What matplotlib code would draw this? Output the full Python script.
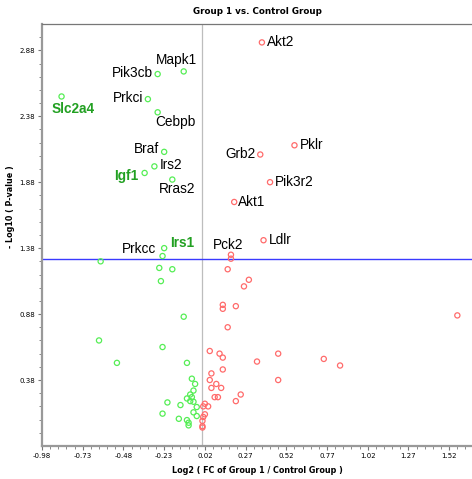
import numpy as np
import matplotlib
matplotlib.use("Agg")
import matplotlib.pyplot as plt
from matplotlib.ticker import FixedLocator

# down-regulated genes (green)
down_x = [-0.86, -0.27, -0.11, -0.33, -0.27, -0.23, -0.29, -0.35, -0.18,
          -0.23, -0.24, -0.26, -0.18, -0.25, -0.11, -0.62, -0.63, -0.52,
          -0.24, -0.09, -0.06, -0.04, -0.05, -0.07, -0.06, -0.09, -0.07,
          -0.05, -0.21, -0.13, -0.03, -0.05, -0.24, -0.03, -0.14, -0.09,
          -0.08, -0.08]
down_y = [2.53, 2.70, 2.72, 2.51, 2.41, 2.11, 2.00, 1.95, 1.90,
          1.38, 1.32, 1.23, 1.22, 1.13, 0.86, 1.28, 0.68, 0.51,
          0.63, 0.51, 0.39, 0.35, 0.30, 0.27, 0.25, 0.24, 0.22,
          0.215, 0.21, 0.19, 0.175, 0.135, 0.125, 0.107, 0.086, 0.076,
          0.056, 0.036]

# up-regulated genes (red)
up_x = [0.37, 0.57, 0.36, 0.42, 0.20, 0.38, 0.18, 0.18, 0.16, 0.29,
        0.26, 0.13, 0.13, 0.21, 1.57, 0.16, 0.05, 0.11, 0.13, 0.47,
        0.34, 0.75, 0.85, 0.13, 0.06, 0.05, 0.47, 0.09, 0.12, 0.06,
        0.24, 0.10, 0.08, 0.21, 0.02, 0.04, 0.01, 0.02, 0.01, 0.005,
        0.005, 0.005]
up_y = [2.94, 2.16, 2.09, 1.88, 1.73, 1.44, 1.33, 1.30, 1.22, 1.14,
        1.09, 0.95, 0.92, 0.94, 0.87, 0.78, 0.60, 0.58, 0.55, 0.58,
        0.52, 0.54, 0.49, 0.46, 0.43, 0.38, 0.38, 0.35, 0.32, 0.32,
        0.27, 0.25, 0.25, 0.22, 0.20, 0.18, 0.18, 0.12, 0.10, 0.07,
        0.03, 0.02]

# labels: (name, index, side, offset px, highlighted)
down_labels = [("Slc2a4", 0, "left", (-10, -13), True),
               ("Pik3cb", 1, "right", (-5, 1), False),
               ("Mapk1", 2, "center", (-7, 11), False),
               ("Prkci", 3, "right", (-5, 1), False),
               ("Cebpb", 4, "left", (-2, -10), False),
               ("Braf", 5, "right", (-5, 3), False),
               ("Irs2", 6, "left", (5, 1), False),
               ("Igf1", 7, "right", (-6, -3), True),
               ("Rras2", 8, "left", (-13, -9), False),
               ("Irs1", 9, "left", (6, 5), True),
               ("Prkcc", 10, "right", (-6, 7), False)]
up_labels = [("Akt2", 0, "left", (5, 0)),
             ("Pklr", 1, "left", (5, 0)),
             ("Grb2", 2, "right", (-5, 1)),
             ("Pik3r2", 3, "left", (5, 0)),
             ("Akt1", 4, "left", (4, 0)),
             ("Ldlr", 5, "left", (5, 0)),
             ("Pck2", 6, "center", (-3, 10))]

p_cut = -np.log10(0.05)

fig = plt.figure(figsize=(4.72, 4.79), dpi=100)
ax = fig.add_axes([0.089, 0.069, 0.911, 0.881])

ax.axvline(0, color='#bdbdbd', lw=0.9, zorder=1)
ax.axhline(p_cut, color='#3a3aff', lw=1.0, zorder=1)

ax.scatter(down_x, down_y, s=14, facecolors='none', edgecolors='#55ee55',
           linewidths=0.9, zorder=3)
ax.scatter(up_x, up_y, s=14, facecolors='none', edgecolors='#ff6b6b',
           linewidths=0.9, zorder=3)

lab_font = ['Liberation Sans', 'DejaVu Sans']
for name, i, ha, off, hi in down_labels:
    ax.annotate(name, (down_x[i], down_y[i]), xytext=off,
                textcoords='offset pixels', ha=ha, va='center',
                fontsize=9.8, family=lab_font,
                color='#22a022' if hi else 'black',
                fontweight='bold' if hi else 'normal')
for name, i, ha, off in up_labels:
    ax.annotate(name, (up_x[i], up_y[i]), xytext=off,
                textcoords='offset pixels', ha=ha, va='center',
                fontsize=9.8, family=lab_font, color='black')

ax.set_xlim(-0.98, 1.66)
ax.set_ylim(-0.12, 3.08)
ax.xaxis.set_major_locator(FixedLocator(np.arange(-0.98, 1.6, 0.25)))
ax.xaxis.set_minor_locator(FixedLocator(np.arange(-0.98, 1.66, 0.05)))
ax.yaxis.set_major_locator(FixedLocator(np.arange(0.38, 3.0, 0.5)))
ax.yaxis.set_minor_locator(FixedLocator(np.arange(-0.02, 3.08, 0.1)))
ax.xaxis.set_major_formatter(plt.FuncFormatter(lambda v, p: f"{v:.2f}"))
ax.yaxis.set_major_formatter(plt.FuncFormatter(lambda v, p: f"{v:.2f}"))
ax.tick_params(which='major', length=3, width=0.8, color='#777777',
               labelsize=5, pad=2)
ax.tick_params(which='minor', length=2, width=0.6, color='#777777')

for side in ('left', 'bottom'):
    ax.spines[side].set_color('#999999')
    ax.spines[side].set_linewidth(1.6)
ax.spines['top'].set_color('#777777')
ax.spines['top'].set_linewidth(0.9)
ax.spines['right'].set_visible(False)

ax.set_title("Group 1 vs. Control Group", fontsize=6.3, fontweight='bold',
             pad=7)
ax.set_xlabel("Log2 ( FC of Group 1 / Control Group )", fontsize=5.8,
              fontweight='bold', labelpad=5)
ax.set_ylabel("- Log10 ( P-value )", fontsize=5.8, fontweight='bold')
ax.yaxis.set_label_coords(-0.063, 0.566)

fig.savefig("out.png", dpi=100)
